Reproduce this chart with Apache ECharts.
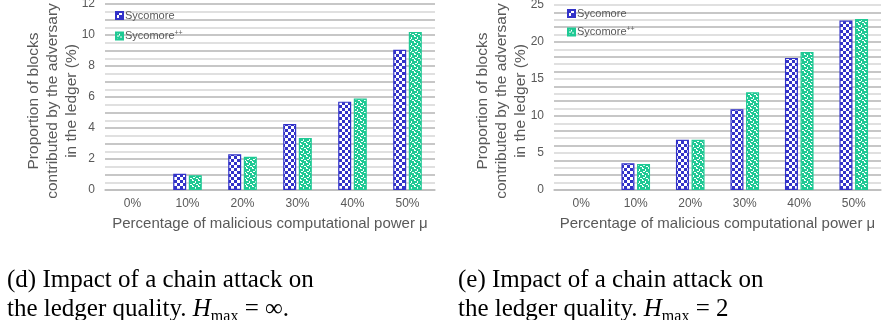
<!DOCTYPE html>
<html>
<head>
<meta charset="utf-8">
<script src="https://cdn.jsdelivr.net/npm/echarts@6/dist/echarts.min.js"></script>
<style>
  html, body { margin: 0; padding: 0; background: #fff; }
  #chart { width: 884px; height: 320px; }
</style>
</head>
<body>
<div id="chart"></div>
<script>
var categories = ['0%', '10%', '20%', '30%', '40%', '50%'];
// (d) Hmax = inf
var sycomoreInf = [0, 1.05, 2.3, 4.25, 5.7, 9.05];
var sycomorePPInf = [0, 0.95, 2.15, 3.35, 5.9, 10.2];
// (e) Hmax = 2
var sycomore2 = [0, 3.6, 6.8, 10.9, 17.85, 22.9];
var sycomorePP2 = [0, 3.5, 6.8, 13.2, 18.65, 23.1];
var ticksLeft = [0, 2, 4, 6, 8, 10, 12];
var ticksRight = [0, 5, 10, 15, 20, 25];

var BLUE = '#3232c8';
var GREEN = '#1fc994';
var TXT = '#595959';
var SANS = "'Liberation Sans', Arial, sans-serif";
var SERIF = "'Liberation Serif', 'Times New Roman', serif";
var yTitle = 'Proportion of blocks\ncontributed by the adversary\nin the ledger (%)';
var xTitle = 'Percentage of malicious computational power \u03bc';

function checker() {
    var c = document.createElement('canvas');
    c.width = c.height = 6;
    var g = c.getContext('2d');
    g.fillStyle = '#fff';
    g.fillRect(0, 0, 6, 6);
    g.fillStyle = BLUE;
    g.fillRect(0, 0, 3, 3);
    g.fillRect(3, 3, 3, 3);
    return c;
}
function dots() {
    var c = document.createElement('canvas');
    c.width = c.height = 6;
    var g = c.getContext('2d');
    g.fillStyle = GREEN;
    g.fillRect(0, 0, 6, 6);
    g.fillStyle = '#fff';
    g.fillRect(0, 0, 2, 1);
    g.fillRect(3, 1, 1, 2);
    g.fillRect(1, 3, 2, 1);
    g.fillRect(4, 4, 2, 1);
    g.fillRect(0, 5, 1, 1);
    return c;
}
var blueFill = { image: checker(), repeat: 'repeat' };
var greenFill = { image: dots(), repeat: 'repeat' };

function xAxis(i) {
    return {
        gridIndex: i, type: 'category', data: categories,
        axisLine: { lineStyle: { color: '#bfbfbf', width: 1.5 } },
        axisTick: { show: false },
        axisLabel: { color: TXT, fontSize: 12, fontFamily: SANS, margin: 8 },
        name: xTitle, nameLocation: 'middle', nameGap: 26,
        nameTextStyle: { color: TXT, fontSize: 15, fontFamily: SANS }
    };
}
function yAxis(i, max, step, ticks) {
    return {
        gridIndex: i, type: 'value', min: 0, max: max, interval: step,
        axisLine: { show: false }, axisTick: { show: false },
        axisLabel: {
            color: TXT, fontSize: 12, fontFamily: SANS, margin: 10,
            formatter: function (v) { return ticks.indexOf(v) >= 0 ? String(v) : ''; }
        },
        splitLine: { lineStyle: { color: ['#b4b4b4', '#d6d6d6'], width: 1.5 } }
    };
}
function bar(name, data, i, fill, border) {
    return {
        name: name, type: 'bar', xAxisIndex: i, yAxisIndex: i,
        // no outline for empty bars
        data: data.map(function (v) { return v === 0 ? { value: v, itemStyle: { borderWidth: 0 } } : v; }),
        barWidth: 13, barGap: '20%',
        itemStyle: { color: fill, borderColor: border, borderWidth: 1.2 },
        emphasis: { disabled: true }
    };
}
function legend(left, top, gap) {
    return {
        left: left, top: top, orient: 'vertical', itemGap: gap,
        itemWidth: 7, itemHeight: 7, icon: 'rect',
        data: ['Sycomore', 'Sycomore++'],
        formatter: function (n) { return n === 'Sycomore++' ? 'Sycomore{sup|++}' : n; },
        textStyle: {
            color: TXT, fontSize: 11, fontFamily: SANS, padding: [0, 0, 0, -3],
            rich: { sup: { fontSize: 7, fontFamily: SANS, color: TXT, verticalAlign: 'top', padding: [0, 0, 5, 0] } }
        }
    };
}
function caption(left, text) {
    return {
        left: left, top: 266, padding: 0, text: text,
        textStyle: {
            fontFamily: SERIF, fontSize: 25, fontWeight: 'normal', color: '#000', lineHeight: 29,
            rich: {
                i: { fontFamily: SERIF, fontSize: 25, fontStyle: 'italic', color: '#000' },
                s: { fontFamily: SERIF, fontSize: 16, color: '#000', verticalAlign: 'bottom', padding: [0, 0, -1, 0] }
            }
        }
    };
}
function yName(x) {
    return {
        type: 'text', x: x, y: 101, rotation: Math.PI / 2,
        style: { text: yTitle, fill: TXT, fontSize: 15.5, fontFamily: SANS, align: 'center', verticalAlign: 'middle', lineHeight: 19 }
    };
}

var myChart = echarts.init(document.getElementById('chart'));
var option = {
    animation: false,
    grid: [
        { left: 105, right: 449, top: 4, bottom: 130, outerBoundsMode: 'none' },
        { left: 554, right: 3, top: 5, bottom: 130, outerBoundsMode: 'none' }
    ],
    xAxis: [xAxis(0), xAxis(1)],
    yAxis: [yAxis(0, 12, 0.5, ticksLeft), yAxis(1, 25, 1, ticksRight)],
    legend: [legend(110, 5, 9), legend(562, 3, 7)],
    title: [
        caption(7, '(d) Impact of a chain attack on\nthe ledger quality. {i|H}{s|max} = \u221e.'),
        caption(458, '(e) Impact of a chain attack on\nthe ledger quality. {i|H}{s|max} = 2')
    ],
    graphic: [yName(53), yName(502)],
    series: [
        bar('Sycomore', sycomoreInf, 0, blueFill, BLUE),
        bar('Sycomore++', sycomorePPInf, 0, greenFill, GREEN),
        bar('Sycomore', sycomore2, 1, blueFill, BLUE),
        bar('Sycomore++', sycomorePP2, 1, greenFill, GREEN)
    ]
};
myChart.setOption(option);
</script>
</body>
</html>
